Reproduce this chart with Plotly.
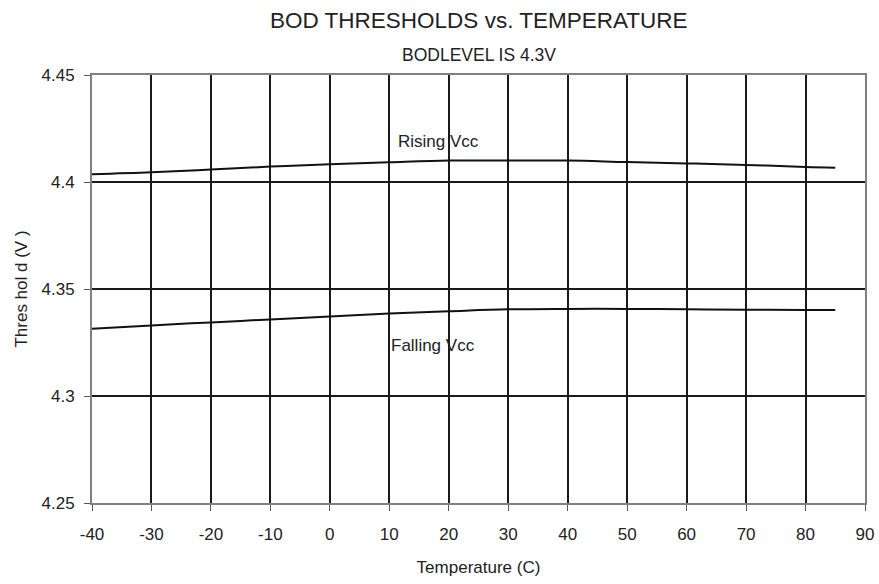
import plotly.graph_objects as go

temperature = [-40, -30, -20, -10, 0, 10, 20, 30, 40, 50, 60, 70, 80, 85]
rising_vcc = [4.4036, 4.4045, 4.4058, 4.4072, 4.4083, 4.4092, 4.4100,
              4.4101, 4.4100, 4.4093, 4.4087, 4.4080, 4.4070, 4.4067]
falling_vcc = [4.3314, 4.3330, 4.3344, 4.3358, 4.3372, 4.3386, 4.3396,
               4.3405, 4.3407, 4.3407, 4.3405, 4.3403, 4.3402, 4.3402]

x_ticks = list(range(-40, 91, 10))
x_ticklabels = [str(t) for t in x_ticks]
y_ticks = [4.25, 4.3, 4.35, 4.4, 4.45]
y_ticklabels = ["4.25", "4.3", "4.35", "4.4", "4.45"]

font_family = "Liberation Sans, Arial, sans-serif"
text_color = "#222222"

fig = go.Figure()
for name, values in [("Rising Vcc", rising_vcc), ("Falling Vcc", falling_vcc)]:
    fig.add_trace(
        go.Scatter(
            x=temperature,
            y=values,
            mode="lines",
            name=name,
            line=dict(color="#111111", width=2, shape="spline"),
            showlegend=False,
        )
    )

# curve labels
fig.add_annotation(x=18.2, y=4.419, text="Rising Vcc", showarrow=False,
                   font=dict(size=17, color=text_color))
fig.add_annotation(x=17.3, y=4.3238, text="Falling Vcc", showarrow=False,
                   font=dict(size=17, color=text_color))

# title and subtitle
fig.add_annotation(x=0.5, y=1, xref="paper", yref="paper", yanchor="middle", yshift=55,
                   showarrow=False, text="BOD THRESHOLDS vs. TEMPERATURE",
                   font=dict(size=22.5, color=text_color))
fig.add_annotation(x=0.5, y=1, xref="paper", yref="paper", yanchor="middle", yshift=20,
                   showarrow=False, text="BODLEVEL IS 4.3V",
                   font=dict(size=17.5, color=text_color))

axis_style = dict(
    showgrid=True,
    gridcolor="#1a1a1a",
    gridwidth=2,
    zeroline=False,
    showline=True,
    linecolor="#808080",
    linewidth=2,
    mirror=True,
    ticks="outside",
    ticklen=6,
    tickcolor="#555555",
    tickfont=dict(size=17, color=text_color),
    automargin=False,
)

fig.update_xaxes(
    range=[-40, 90],
    tickvals=x_ticks,
    ticktext=x_ticklabels,
    ticklabelstandoff=9,
    title=dict(text="Temperature (C)", font=dict(size=17, color=text_color), standoff=18),
    **axis_style,
)
fig.update_yaxes(
    range=[4.25, 4.45],
    tickvals=y_ticks,
    ticktext=y_ticklabels,
    ticklabelstandoff=6,
    title=dict(text="Thres hol d (V )", font=dict(size=17, color=text_color), standoff=10),
    **axis_style,
)

fig.update_layout(
    width=879,
    height=584,
    margin=dict(l=92, r=14, t=75, b=81),
    plot_bgcolor="white",
    paper_bgcolor="white",
    font=dict(family=font_family),
)

fig.write_html("out.html", config={"displayModeBar": False},
               post_script="document.body.style.margin='0';")
